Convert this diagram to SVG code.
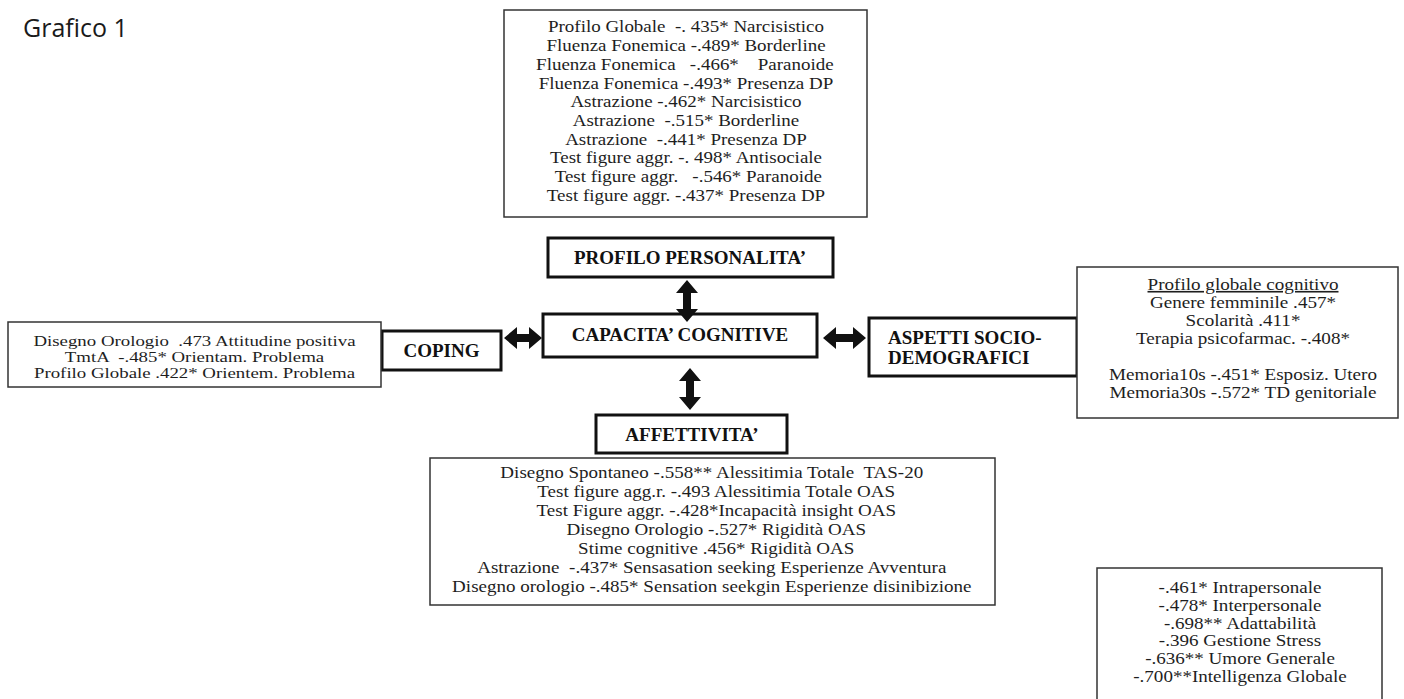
<svg xmlns="http://www.w3.org/2000/svg" width="1404" height="699" viewBox="0 0 1404 699">
<style>
.bg{fill:#ffffff}
.box{fill:#ffffff;stroke:#333333;stroke-width:1.5}
.hbox{fill:#ffffff;stroke:#111111;stroke-width:3}
.t{font-family:"Liberation Serif","Times New Roman",serif;fill:#1e1e1e;text-anchor:middle}
.lab{font-family:"Liberation Serif","Times New Roman",serif;font-weight:bold;font-size:19px;fill:#111111}
.arr{fill:#111111}
.title{font-family:"Open Sans","Noto Sans",sans-serif;font-size:25px;fill:#1a1a1a}
</style>
<rect class="bg" x="0" y="0" width="1404" height="699"/>
<text class="title" x="23" y="37">Grafico 1</text>

<g id="box-personalita-detail">
<rect class="box" x="504" y="10" width="363" height="207"/>
<text class="t" font-size="16.8" transform="translate(686 0) scale(1.13 1)" xml:space="preserve"><tspan x="0" y="32.5">Profilo Globale  -. 435* Narcisistico</tspan><tspan x="0" y="51.2">Fluenza Fonemica -.489* Borderline</tspan><tspan x="-1" y="69.9">Fluenza Fonemica   -.466*    Paranoide</tspan><tspan x="0" y="88.6">Fluenza Fonemica -.493* Presenza DP</tspan><tspan x="0" y="107.3">Astrazione -.462* Narcisistico</tspan><tspan x="0" y="126">Astrazione  -.515* Borderline</tspan><tspan x="0" y="144.7">Astrazione  -.441* Presenza DP</tspan><tspan x="0" y="163.4">Test figure aggr. -. 498* Antisociale</tspan><tspan x="2" y="182.1">Test figure aggr.   -.546* Paranoide</tspan><tspan x="0" y="200.8">Test figure aggr. -.437* Presenza DP</tspan></text>
</g>

<g id="node-profilo">
<rect class="hbox" x="548" y="238" width="285" height="39"/>
<text class="lab" x="690" y="264" text-anchor="middle">PROFILO PERSONALITA’</text>
</g>

<g id="node-capacita">
<rect class="hbox" x="543" y="314" width="274" height="43"/>
<text class="lab" x="680" y="341" text-anchor="middle">CAPACITA’ COGNITIVE</text>
</g>

<g id="node-coping">
<rect class="hbox" x="382" y="331" width="119" height="39"/>
<text class="lab" x="441.5" y="357" text-anchor="middle">COPING</text>
</g>

<g id="box-coping-detail">
<rect class="box" x="8" y="322" width="373" height="65"/>
<text class="t" font-size="14.5" transform="translate(194.5 0) scale(1.3 1)" xml:space="preserve"><tspan x="0" y="346">Disegno Orologio  .473 Attitudine positiva</tspan><tspan x="0" y="362">TmtA  -.485* Orientam. Problema</tspan><tspan x="0" y="378">Profilo Globale .422* Orientem. Problema</tspan></text>
</g>

<g id="node-aspetti">
<rect class="hbox" x="869" y="318" width="208" height="58"/>
<text class="lab" x="888" y="344">ASPETTI SOCIO-</text>
<text class="lab" x="888" y="364">DEMOGRAFICI</text>
</g>

<g id="box-aspetti-detail">
<rect class="box" x="1077" y="267" width="321" height="151"/>
<text class="t" font-size="16.2" transform="translate(1243 0) scale(1.18 1)"><tspan x="0" y="290" text-decoration="underline">Profilo globale cognitivo</tspan><tspan x="0" y="308">Genere femminile .457*</tspan><tspan x="0" y="326">Scolarità .411*</tspan><tspan x="0" y="344">Terapia psicofarmac. -.408*</tspan><tspan x="0" y="380">Memoria10s -.451* Esposiz. Utero</tspan><tspan x="0" y="398">Memoria30s -.572* TD genitoriale</tspan></text>
</g>

<g id="node-affettivita">
<rect class="hbox" x="596" y="415" width="191" height="38"/>
<text class="lab" x="692" y="441" text-anchor="middle">AFFETTIVITA’</text>
</g>

<g id="box-affettivita-detail">
<rect class="box" x="430" y="458" width="565" height="147"/>
<text class="t" font-size="17" transform="translate(714 0) scale(1.12 1)" xml:space="preserve"><tspan x="-2" y="478">Disegno Spontaneo -.558** Alessitimia Totale  TAS-20</tspan><tspan x="2" y="497">Test figure agg.r. -.493 Alessitimia Totale OAS</tspan><tspan x="2" y="516">Test Figure aggr. -.428*Incapacità insight OAS</tspan><tspan x="2" y="535">Disegno Orologio -.527* Rigidità OAS</tspan><tspan x="2" y="554">Stime cognitive .456* Rigidità OAS</tspan><tspan x="-2" y="573">Astrazione  -.437* Sensasation seeking Esperienze Avventura</tspan><tspan x="-2" y="592">Disegno orologio -.485* Sensation seekgin Esperienze disinibizione</tspan></text>
</g>

<g id="box-intelligenza">
<rect class="box" x="1097" y="568" width="285" height="150"/>
<text class="t" font-size="16" transform="translate(1240 0) scale(1.19 1)"><tspan x="0" y="593">-.461* Intrapersonale</tspan><tspan x="0" y="610.8">-.478* Interpersonale</tspan><tspan x="0" y="628.6">-.698** Adattabilità</tspan><tspan x="0" y="646.4">-.396 Gestione Stress</tspan><tspan x="0" y="664.2">-.636** Umore Generale</tspan><tspan x="0" y="682">-.700**Intelligenza Globale</tspan></text>
</g>

<g id="connectors">
<path class="arr" d="M504,338 L517,327 L517,334 L529,334 L529,327 L542,338 L529,349 L529,342 L517,342 L517,349 Z"/>
<path class="arr" d="M823,338 L836,327 L836,334 L853,334 L853,327 L866,338 L853,349 L853,342 L836,342 L836,349 Z"/>
<path class="arr" d="M687,280 L698,293 L691,293 L691,309 L698,309 L687,322 L676,309 L683,309 L683,293 L676,293 Z"/>
<path class="arr" d="M690,368 L701,381 L694,381 L694,397 L701,397 L690,410 L679,397 L686,397 L686,381 L679,381 Z"/>
</g>
</svg>
